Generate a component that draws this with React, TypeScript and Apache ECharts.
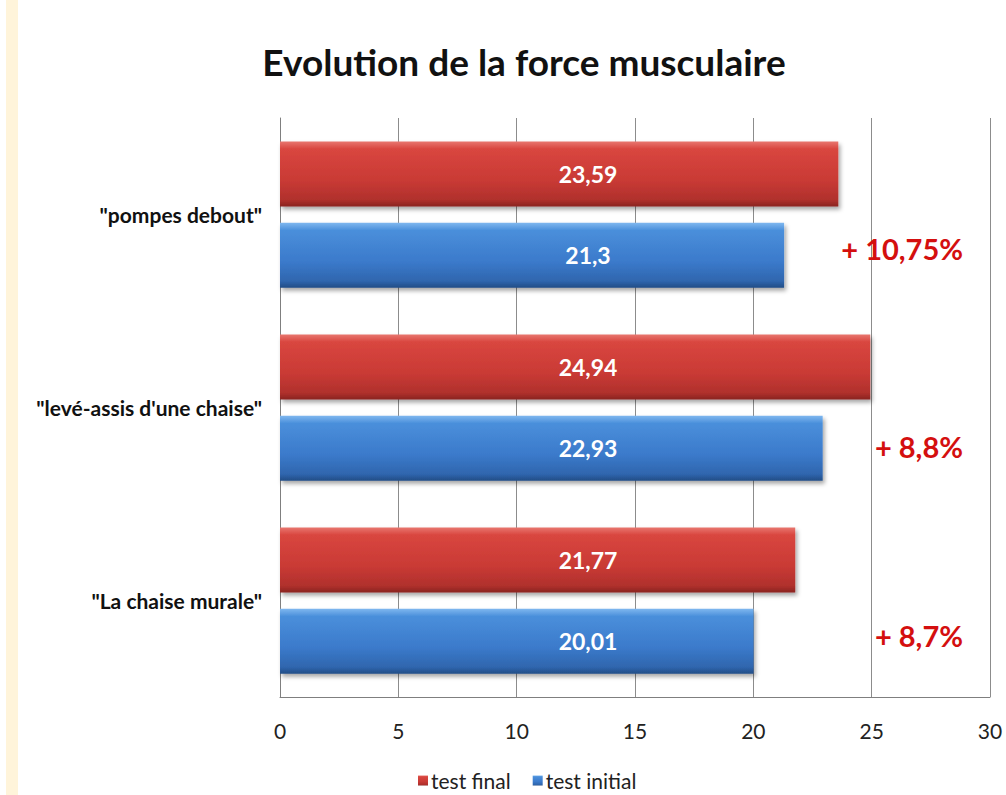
import React, { useEffect, useRef } from "react";
import * as echarts from "echarts";

const categories = ['"La chaise murale"', '"levé-assis d\'une chaise"', '"pompes debout"'];
const testFinal = [21.77, 24.94, 23.59];
const testInitial = [20.01, 22.93, 21.3];
const gains = ["+ 8,7%", "+ 8,8%", "+ 10,75%"];
const xTicks = { min: 0, max: 30, interval: 5 };

const FONT = "Lato, 'Noto Sans', sans-serif";

const redGrad = new echarts.graphic.LinearGradient(0, 0, 0, 1, [
  { offset: 0, color: "#e8766f" },
  { offset: 0.12, color: "#d9463f" },
  { offset: 0.6, color: "#c93a35" },
  { offset: 0.9, color: "#b0302c" },
  { offset: 1, color: "#8a2421" },
]);
const blueGrad = new echarts.graphic.LinearGradient(0, 0, 0, 1, [
  { offset: 0, color: "#80b8ef" },
  { offset: 0.12, color: "#4a8fdb" },
  { offset: 0.6, color: "#3b7acb" },
  { offset: 0.9, color: "#2f66ae" },
  { offset: 1, color: "#224d86" },
]);

const fmt = (v: number) => String(v).replace(".", ",");

export default function App() {
  const ref = useRef<HTMLDivElement>(null);
  useEffect(() => {
    if (!ref.current) return;
    const chart = echarts.init(ref.current, undefined, { renderer: "svg" });
    const barLabel = {
      show: true,
      position: [308, "50%"] as any,
      align: "center",
      verticalAlign: "middle",
      color: "#ffffff",
      fontFamily: FONT,
      fontWeight: "bold",
      fontSize: 23,
      formatter: (p: any) => fmt(p.value),
    };
    const shadow = {
      shadowColor: "rgba(0,0,0,0.35)",
      shadowBlur: 4,
      shadowOffsetX: 2,
      shadowOffsetY: 3,
    };
    chart.setOption({
      animation: false,
      backgroundColor: "#ffffff",
      title: {
        text: "Evolution de la force musculaire",
        left: 519,
        top: 38,
        textAlign: "center",
        textStyle: { fontFamily: FONT, fontWeight: "bold", fontSize: 37, color: "#111" },
      },
      legend: {
        data: ["test final", "test initial"],
        left: 413,
        top: 765,
        icon: "rect",
        itemWidth: 10,
        itemHeight: 10,
        itemGap: 22,
        textStyle: { fontFamily: FONT, fontSize: 21, color: "#222", padding: [0, 0, 0, -2] },
      },
      grid: { left: 280, right: 16, top: 118, bottom: 98, containLabel: false },
      xAxis: {
        type: "value",
        min: xTicks.min,
        max: xTicks.max,
        interval: xTicks.interval,
        axisLine: { show: true, lineStyle: { color: "#7f7f7f", width: 1 } },
        axisTick: { show: false },
        splitLine: { show: true, lineStyle: { color: "#8c8c8c", width: 1 } },
        axisLabel: { fontFamily: FONT, fontSize: 21, color: "#222", margin: 23 },
      },
      yAxis: {
        type: "category",
        data: categories,
        axisLine: { show: true, lineStyle: { color: "#7f7f7f", width: 1 } },
        axisTick: { show: false },
        axisLabel: { fontFamily: FONT, fontWeight: "bold", fontSize: 21, color: "#111", margin: 18 },
      },
      series: [
        {
          name: "test final",
          type: "bar",
          data: testFinal,
          barWidth: 65,
          barGap: "25%",
          itemStyle: { color: redGrad, ...shadow },
          label: barLabel,
        },
        {
          name: "test initial",
          type: "bar",
          data: testInitial,
          barWidth: 65,
          barGap: "25%",
          itemStyle: { color: blueGrad, ...shadow },
          label: barLabel,
        },
      ],
    });
    const graphics: any[] = [
      {
        type: "rect",
        shape: { x: 6, y: 0, width: 12, height: 795 },
        style: { fill: "#fff4da" },
        z: -1,
      },
    ];
    const yOffsets = [35, 39, 34];
    categories.forEach((c, i) => {
      const y = chart.convertToPixel({ yAxisIndex: 0 }, c) as number;
      graphics.push({
        type: "text",
        x: 963,
        y: y + yOffsets[i],
        style: {
          text: gains[i],
          fill: "#d40f0f",
          font: `bold 29px ${FONT}`,
          textAlign: "right",
          textVerticalAlign: "middle",
        },
      });
    });
    chart.setOption({ graphic: graphics });
    return () => chart.dispose();
  }, []);
  return <div ref={ref} style={{ width: 1006, height: 795, position: "absolute", left: 0, top: 0 }} />;
}
